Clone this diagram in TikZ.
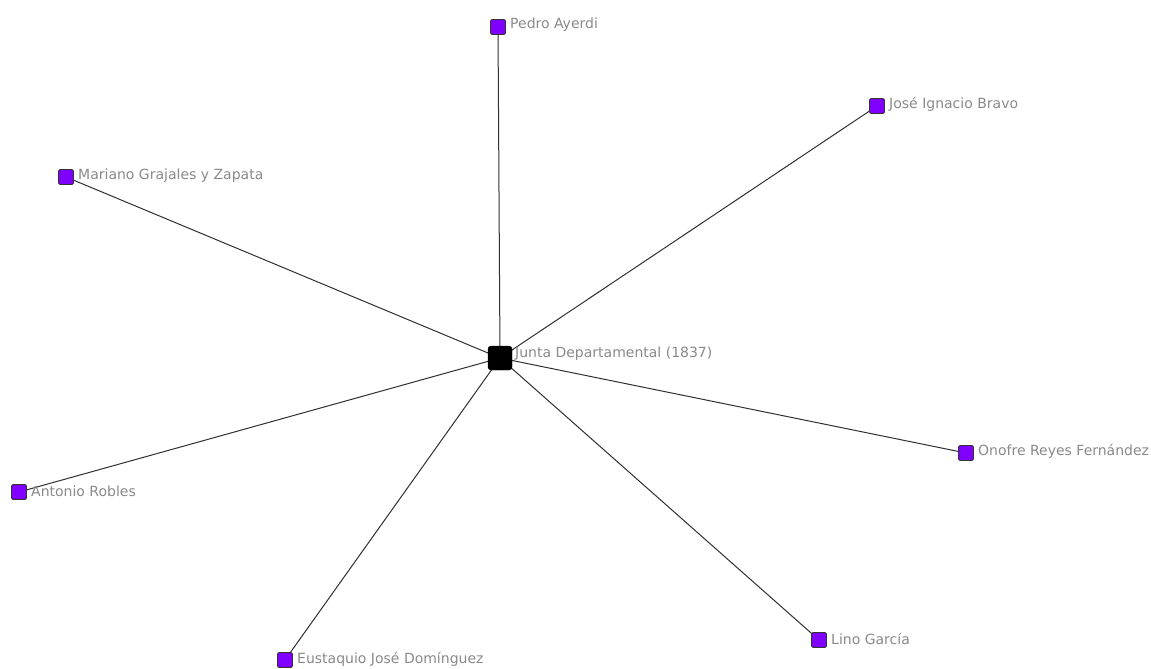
\documentclass[tikz,border=0pt]{standalone}
\usepackage{fontspec}
\setmainfont{DejaVu Sans}
\definecolor{nodepurple}{HTML}{8000FF}
\definecolor{labelgray}{HTML}{8A8A8A}
\definecolor{edgegray}{HTML}{303030}
\begin{document}
\begin{tikzpicture}[x=1pt,y=-1pt,
  leaf/.style={draw=black!80, fill=nodepurple, rounded corners=1.5pt, minimum size=15pt, inner sep=0pt, line width=0.8pt},
  hub/.style={draw=black, fill=black, rounded corners=3pt, minimum size=24pt, inner sep=0pt},
  lbl/.style={text=labelgray, font=\fontsize{14}{16}\selectfont, anchor=west, inner sep=0pt},
  edge/.style={draw=edgegray, line width=1pt}]
\useasboundingbox (0,0) rectangle (1151,669);
\fill[white] (0,0) rectangle (1151,669);
\coordinate (cc) at (500,358);
\coordinate (pc) at (498,27);
\coordinate (jc) at (877,106);
\coordinate (mc) at (66,177);
\coordinate (ac) at (19,492);
\coordinate (oc) at (966,453);
\coordinate (lc) at (819,640);
\coordinate (ec) at (285,660);
\draw[edge] (cc) -- (pc);
\draw[edge] (cc) -- (jc);
\draw[edge] (cc) -- (mc);
\draw[edge] (cc) -- (ac);
\draw[edge] (cc) -- (oc);
\draw[edge] (cc) -- (lc);
\draw[edge] (cc) -- (ec);
\node[hub] (c) at (cc) {};
\node[leaf] (p) at (pc) {};
\node[leaf] (j) at (jc) {};
\node[leaf] (m) at (mc) {};
\node[leaf] (a) at (ac) {};
\node[leaf] (o) at (oc) {};
\node[leaf] (l) at (lc) {};
\node[leaf] (e) at (ec) {};
\node[lbl] (cl) at (515,353.5) {Junta Departamental (1837)};
\node[lbl] (pl) at (510,24.5) {Pedro Ayerdi};
\node[lbl] (jl) at (889,104.5) {José Ignacio Bravo};
\node[lbl] (ml) at (78,175.5) {Mariano Grajales y Zapata};
\node[lbl] (al) at (31,491.5) {Antonio Robles};
\node[lbl] (ol) at (978,451.5) {Onofre Reyes Fernández};
\node[lbl] (ll) at (831,638.5) {Lino García};
\node[lbl] (el) at (297,659.5) {Eustaquio José Domínguez};
\end{tikzpicture}
\end{document}
